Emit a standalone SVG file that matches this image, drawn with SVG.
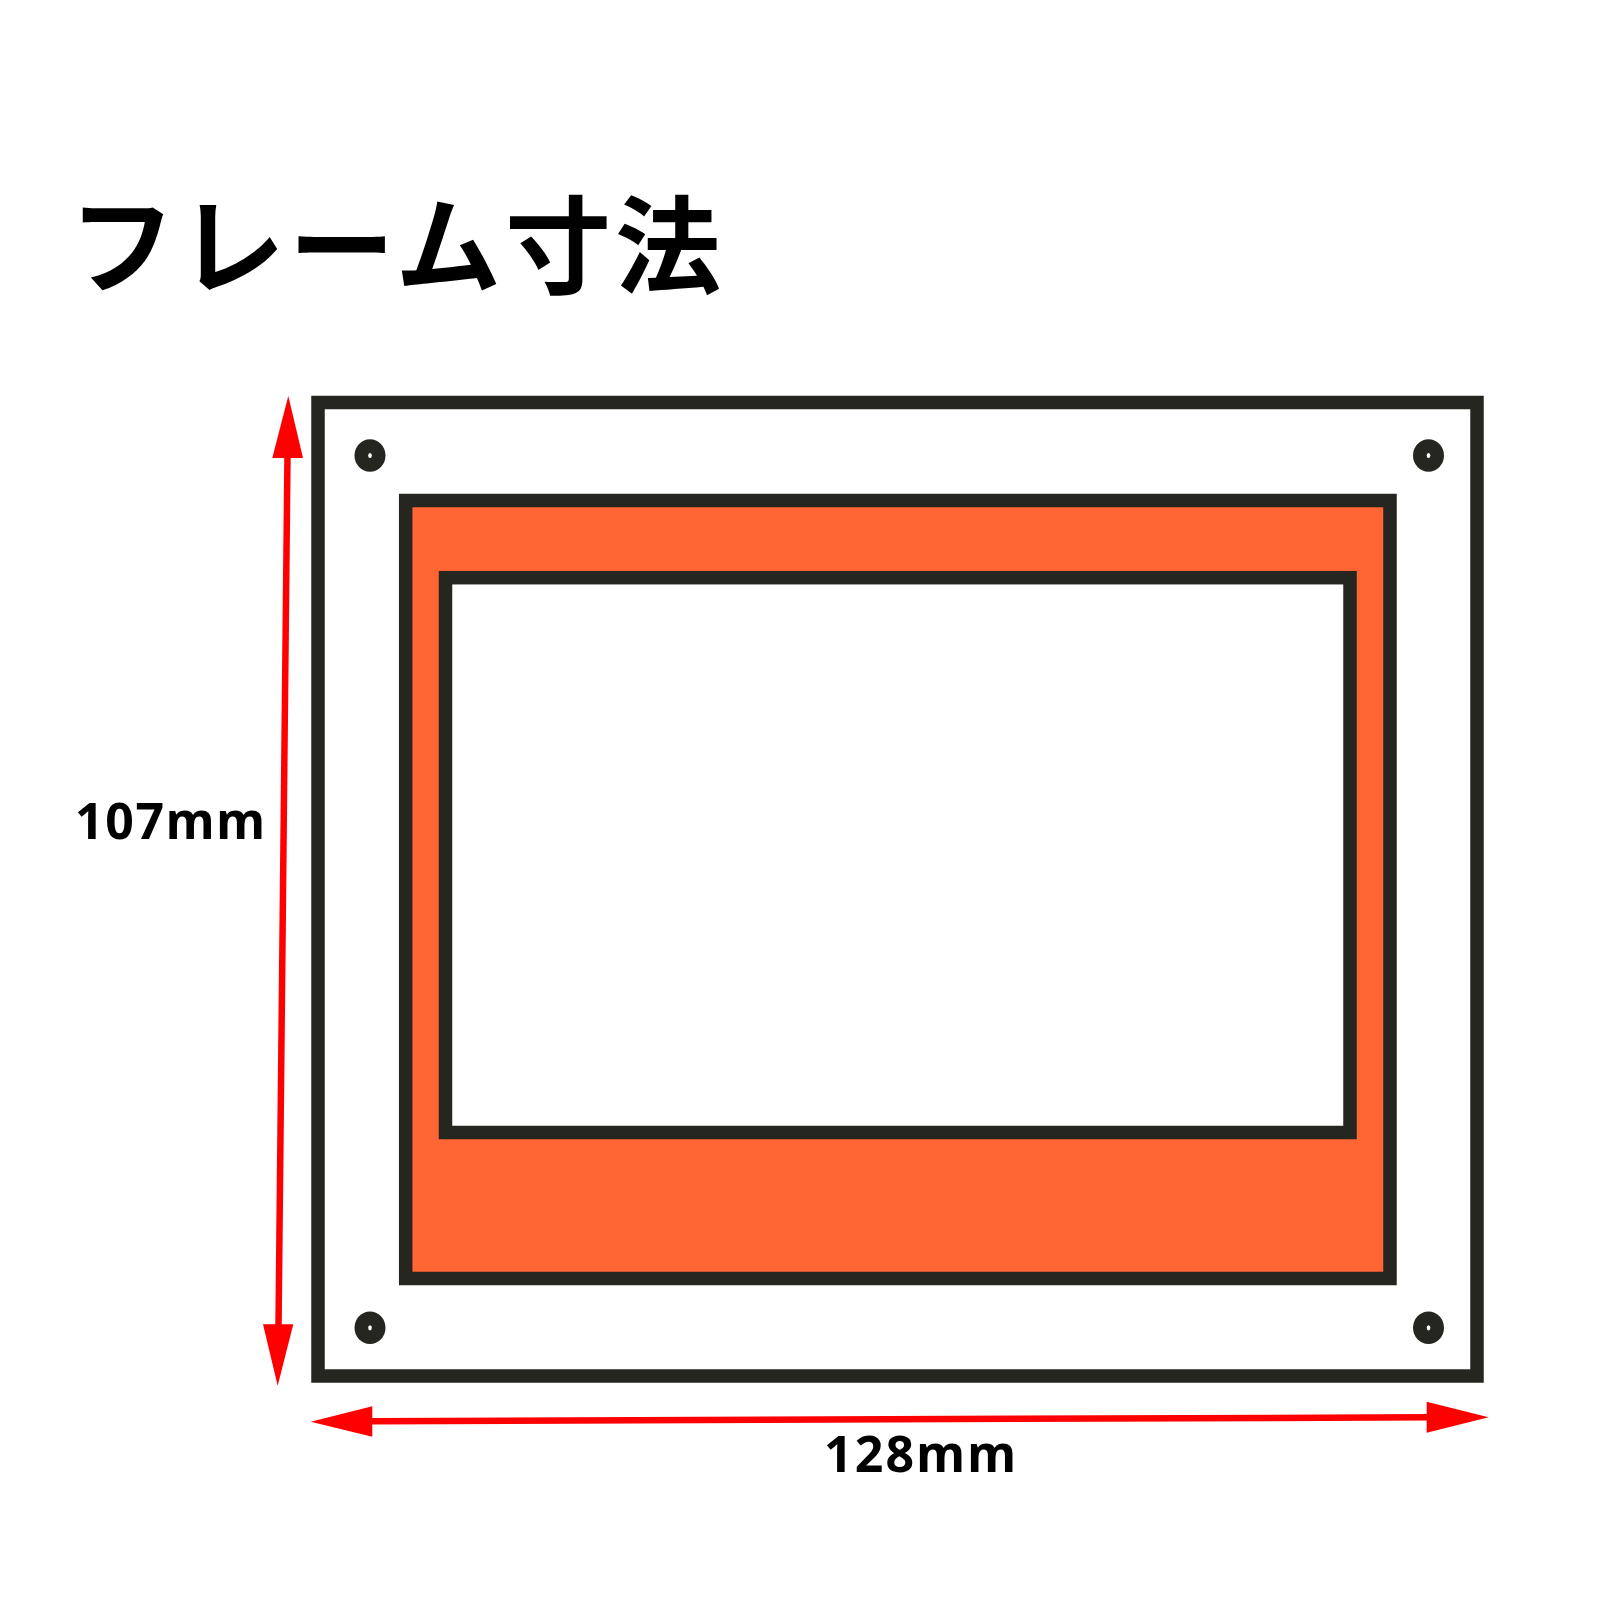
<svg xmlns="http://www.w3.org/2000/svg" width="1600" height="1600" viewBox="0 0 1600 1600">
  <style>
    .frame { fill: #ffffff; stroke: #262621; stroke-width: 13.5; }
    .plate { fill: #ff6633; stroke: #262621; stroke-width: 13.5; }
    .window { fill: #ffffff; stroke: #262621; stroke-width: 13.5; }
    .hole { fill: #262621; }
    .holeDot { fill: #ffffff; }
    .dim { stroke: #ff0000; stroke-width: 6.5; fill: none; }
    .head { fill: #ff0000; }
    .title { font-family: "Noto Sans CJK JP", "Noto Sans", sans-serif; font-weight: bold; font-size: 106px; fill: #000; }
    .label { font-family: "Noto Sans", "DejaVu Sans", sans-serif; font-weight: bold; font-size: 50px; fill: #000; }
  </style>
  <rect width="1600" height="1600" fill="#ffffff"/>

  <text class="title" x="69" y="285" textLength="652" lengthAdjust="spacing">フレーム寸法</text>

  <g id="outer-frame">
    <rect class="frame" x="318" y="402.5" width="1159" height="973.5"/>
  </g>
  <g id="plate">
    <rect class="plate" x="405.7" y="500.5" width="984.3" height="778"/>
  </g>
  <g id="window">
    <rect class="window" x="445.5" y="577.7" width="904.5" height="554.8"/>
  </g>
  <g id="holes">
    <ellipse class="hole" cx="370" cy="455.5" rx="15.5" ry="16.2"/>
    <ellipse class="holeDot" cx="370" cy="455.5" rx="1.8" ry="2.6"/>
    <ellipse class="hole" cx="1428.5" cy="455.5" rx="15.5" ry="16.2"/>
    <ellipse class="holeDot" cx="1428.5" cy="455.5" rx="1.8" ry="2.6"/>
    <ellipse class="hole" cx="370" cy="1327.8" rx="15.5" ry="16.2"/>
    <ellipse class="holeDot" cx="370" cy="1327.8" rx="1.8" ry="2.6"/>
    <ellipse class="hole" cx="1428.5" cy="1327.8" rx="15.5" ry="16.2"/>
    <ellipse class="holeDot" cx="1428.5" cy="1327.8" rx="1.8" ry="2.6"/>
  </g>

  <g id="connectors">
    <line class="dim" x1="287.5" y1="455" x2="278.5" y2="1327"/>
    <polygon class="head" points="288.3,396 303,458 272.3,458"/>
    <polygon class="head" points="277.7,1385.7 263,1324.3 293.3,1324.3"/>
    <line class="dim" x1="370" y1="1421.3" x2="1429" y2="1417.3"/>
    <polygon class="head" points="310.7,1421.7 372.3,1406.3 372.3,1436.7"/>
    <polygon class="head" points="1488.7,1417.3 1426.7,1401.7 1426.7,1432.7"/>
  </g>

  <text class="label" x="75" y="838.5" textLength="190" lengthAdjust="spacing">107mm</text>
  <text class="label" x="824" y="1472" textLength="192" lengthAdjust="spacing">128mm</text>
</svg>
